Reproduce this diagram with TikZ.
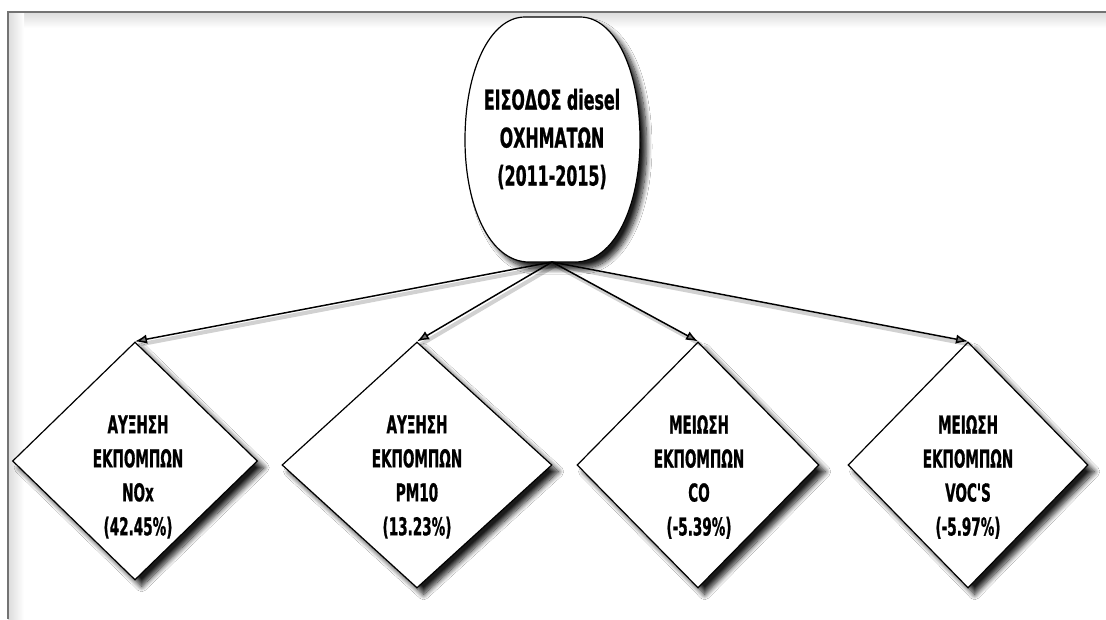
\documentclass[tikz,border=0pt]{standalone}
\usepackage{fontspec}
\setmainfont{DejaVu Sans}
\newfontfamily\lblfont[FakeStretch=0.55,FakeBold=0.8]{DejaVu Sans Bold}
\newfontfamily\toplblfont[FakeStretch=0.58,FakeBold=0.8]{DejaVu Sans Bold}
\usetikzlibrary{shapes.geometric,arrows.meta,shadows.blur}
\begin{document}
\begin{tikzpicture}[x=0.75pt,y=-0.75pt,
  lbl/.style={font=\lblfont\fontsize{18.5}{25.5}\selectfont, align=center, inner sep=0},
  toplbl/.style={font=\toplblfont\fontsize{20.5}{28.5}\selectfont, align=center, inner sep=0},
  shad/.style={blur shadow={shadow xshift=5pt, shadow yshift=-5pt, shadow blur steps=10, shadow opacity=90, shadow blur radius=4pt}},
  dia/.style={draw=black, line width=0.9pt, fill=white, shape=diamond, inner sep=0, shad},
  conn/.style={-{Latex[length=9pt,width=7pt]}, line width=1.1pt},
  connshadow/.style={line width=3pt, draw=black, opacity=0.18, transform canvas={shift={(2.5pt,-2.5pt)}}},
  ]
\useasboundingbox (0,0) rectangle (1106,619);
\fill[white] (0,0) rectangle (1106,619);
% frame
\shade[top color=black!14, bottom color=white] (8,12) rectangle (1106,28);
\shade[left color=black!14, right color=white] (8,12) rectangle (24,619);
\draw[black!55, line width=1.5pt] (8,619) -- (8,12) -- (1106,12);
% top oval
\path[draw=black, line width=0.9pt, fill=white, shad]
  (525,17) -- (580,17) .. controls (615,17) and (640,70) .. (640,140)
  .. controls (640,205) and (615,262) .. (575,262) -- (529,262)
  .. controls (489,262) and (465,205) .. (465,140)
  .. controls (465,70) and (490,17) .. cycle;
\node[toplbl] (top) at (552,139) {ΕΙΣΟΔΟΣ diesel\\ΟΧΗΜΑΤΩΝ\\(2011-2015)};
\coordinate (topS) at (552,262);
% diamonds
\node[dia, minimum width=245*0.75pt, minimum height=238*0.75pt] (d1) at (135,461) {};
\node[dia, minimum width=270*0.75pt, minimum height=246*0.75pt] (d2) at (417,465) {};
\node[dia, minimum width=242*0.75pt, minimum height=246*0.75pt] (d3) at (698,465) {};
\node[dia, minimum width=240*0.75pt, minimum height=246*0.75pt] (d4) at (968,465) {};
\node[lbl] (t1) at (138,477) {ΑΥΞΗΣΗ\\ΕΚΠΟΜΠΩΝ\\NOx\\(42.45\%)};
\node[lbl] (t2) at (417,477) {ΑΥΞΗΣΗ\\ΕΚΠΟΜΠΩΝ\\PM10\\(13.23\%)};
\node[lbl] (t3) at (699,477) {ΜΕΙΩΣΗ\\ΕΚΠΟΜΠΩΝ\\CO\\(-5.39\%)};
\node[lbl] (t4) at (968,477) {ΜΕΙΩΣΗ\\ΕΚΠΟΜΠΩΝ\\VOC'S\\(-5.97\%)};
% connectors
\foreach \d in {d1,d2,d3,d4}{
  \draw[connshadow] (topS) -- (\d.north);
  \draw[conn] (topS) -- (\d.north);
}
\end{tikzpicture}
\end{document}
